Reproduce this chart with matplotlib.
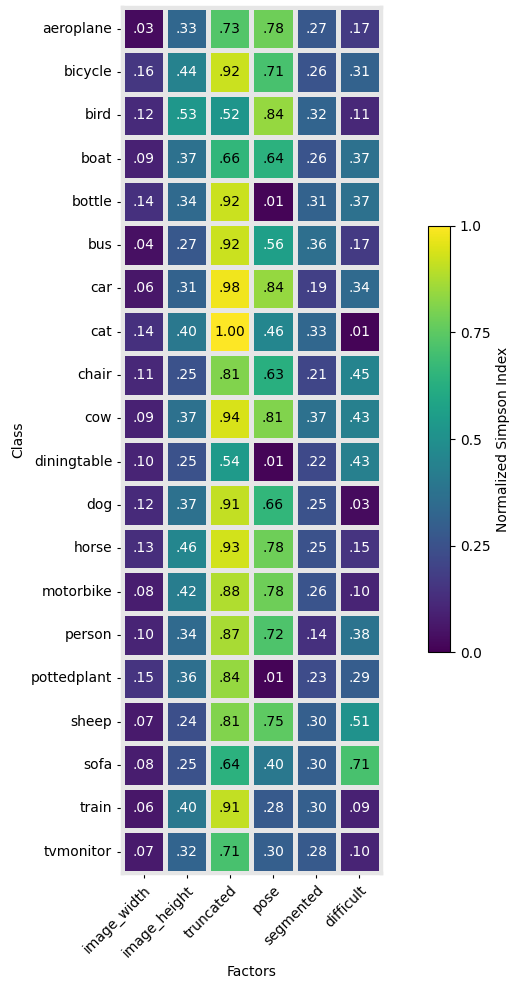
import matplotlib
matplotlib.use("Agg")
import matplotlib.pyplot as plt
import numpy as np
import seaborn as sns

classes = ["aeroplane", "bicycle", "bird", "boat", "bottle", "bus", "car", "cat",
           "chair", "cow", "diningtable", "dog", "horse", "motorbike", "person",
           "pottedplant", "sheep", "sofa", "train", "tvmonitor"]
factors = ["image_width", "image_height", "truncated", "pose", "segmented", "difficult"]

image_width = [.03, .16, .12, .09, .14, .04, .06, .14, .11, .09, .10, .12, .13, .08, .10, .15, .07, .08, .06, .07]
image_height = [.33, .44, .53, .37, .34, .27, .31, .40, .25, .37, .25, .37, .46, .42, .34, .36, .24, .25, .40, .32]
truncated = [.73, .92, .52, .66, .92, .92, .98, 1.00, .81, .94, .54, .91, .93, .88, .87, .84, .81, .64, .91, .71]
pose = [.78, .71, .84, .64, .01, .56, .84, .46, .63, .81, .01, .66, .78, .78, .72, .01, .75, .40, .28, .30]
segmented = [.27, .26, .32, .26, .31, .36, .19, .33, .21, .37, .22, .25, .25, .26, .14, .23, .30, .30, .30, .28]
difficult = [.17, .31, .11, .37, .37, .17, .34, .01, .45, .43, .43, .03, .15, .10, .38, .29, .51, .71, .09, .10]

data = np.array([image_width, image_height, truncated, pose, segmented, difficult]).T


def fmt(v):
    s = "%.2f" % v
    return s[1:] if s.startswith("0") else s


labels = np.array([[fmt(v) for v in row] for row in data])

fig = plt.figure(figsize=(5.19, 9.9), dpi=100)
ax = fig.add_axes([0.235, 0.118, 0.499, 0.875])
cax = fig.add_axes([0.825, 0.341, 0.042, 0.431])

sns.heatmap(data, ax=ax, cbar_ax=cax, cmap="viridis", vmin=0, vmax=1,
            annot=labels, fmt="", linewidths=2.5, linecolor="#e6e6e6",
            xticklabels=factors, yticklabels=classes,
            cbar_kws={"label": "Normalized Simpson Index", "ticks": [0, 0.25, 0.5, 0.75, 1.0]})

vals = data.flatten()
for t, v in zip(ax.texts, vals):
    t.set_color("black" if v > 0.6 else "white")

for sp in ax.spines.values():
    sp.set_visible(True)
    sp.set_color("#e6e6e6")
    sp.set_linewidth(2.5)

ax.set_xticklabels(factors, rotation=45, ha="right", rotation_mode="anchor")
ax.set_yticklabels(classes, rotation=0)
ax.set_xlabel("Factors")
ax.set_ylabel("Class")

cax.set_yticklabels(["0.0", "0.25", "0.5", "0.75", "1.0"])
cb = ax.collections[0].colorbar
cb.outline.set_visible(True)
cb.outline.set_edgecolor("black")
cb.outline.set_linewidth(0.8)

fig.savefig("out.png", dpi=100)
